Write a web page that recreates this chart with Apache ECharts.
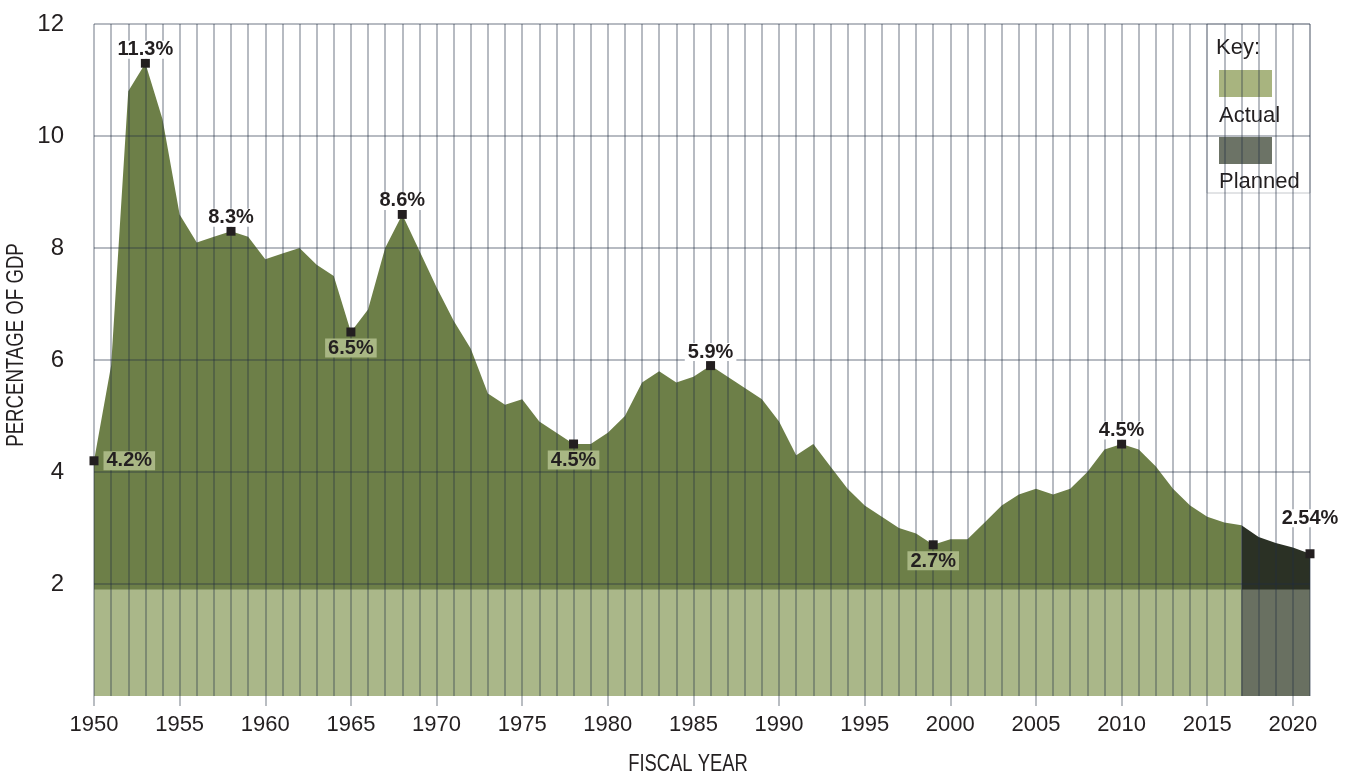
<!DOCTYPE html>
<html>
<head>
<meta charset="utf-8">
<script src="https://cdn.jsdelivr.net/npm/echarts@6/dist/echarts.min.js"></script>
<style>
  html, body { margin: 0; padding: 0; background: #ffffff; }
  #chart { width: 1347px; height: 777px; }
</style>
</head>
<body>
<div id="chart"></div>
<script>
// ---------------- DATA ----------------
const years = [
  '1950','1951','1952','1953','1954','1955','1956','1957','1958','1959',
  '1960','1961','1962','1963','1964','1965','1966','1967','1968','1969',
  '1970','1971','1972','1973','1974','1975','1976','1977','1978','1979',
  '1980','1981','1982','1983','1984','1985','1986','1987','1988','1989',
  '1990','1991','1992','1993','1994','1995','1996','1997','1998','1999',
  '2000','2001','2002','2003','2004','2005','2006','2007','2008','2009',
  '2010','2011','2012','2013','2014','2015','2016','2017','2018','2019',
  '2020','2021'
];
// Actual values, 1950 .. 2017
const actualValues = [
  4.2, 5.9, 10.8, 11.3, 10.3, 8.6, 8.1, 8.2, 8.3, 8.2,
  7.8, 7.9, 8.0, 7.7, 7.5, 6.5, 6.9, 8.0, 8.6, 7.95,
  7.3, 6.7, 6.2, 5.4, 5.2, 5.3, 4.9, 4.7, 4.5, 4.5,
  4.7, 5.0, 5.6, 5.8, 5.6, 5.7, 5.9, 5.7, 5.5, 5.3,
  4.9, 4.3, 4.5, 4.1, 3.7, 3.4, 3.2, 3.0, 2.9, 2.7,
  2.8, 2.8, 3.1, 3.4, 3.6, 3.7, 3.6, 3.7, 4.0, 4.4,
  4.5, 4.4, 4.1, 3.7, 3.4, 3.2, 3.1, 3.05
];
// Planned values, 2017 .. 2021
const plannedYears  = ['2017','2018','2019','2020','2021'];
const plannedValues = [3.05, 2.84, 2.73, 2.65, 2.54];

// Bottom key band level (percentage of GDP)
const bandLevel = 1.9;

// Called-out points
const calloutYears  = ['1950','1953','1958','1965','1968','1978','1986','1999','2010','2021'];
const calloutLabels = ['4.2%','11.3%','8.3%','6.5%','8.6%','4.5%','5.9%','2.7%','4.5%','2.54%'];

const yTicks = [0, 2, 4, 6, 8, 10, 12];

// ---------------- BUILD ----------------
const INK = '#231f20';
const C_ACTUAL_AREA = '#6d7f48';
const C_PLANNED_AREA = '#2b3125';
const C_ACTUAL_BAND = '#aab789';
const C_PLANNED_BAND = '#697061';
const GRID_LINE = 'rgba(30,45,65,0.32)';
const LABEL_GREEN = '#a9b784';
const SANS = '"Liberation Sans", Arial, sans-serif';

function valueAt(year) {
  const pi = plannedYears.indexOf(year);
  if (pi >= 0) return plannedValues[pi];
  return actualValues[years.indexOf(year)];
}

const actualSeriesData = years.map((y, i) => i < actualValues.length ? actualValues[i] : '-');
const plannedSeriesData = years.map(y => {
  const k = plannedYears.indexOf(y);
  return k >= 0 ? plannedValues[k] : '-';
});
const lastActualYear = years[actualValues.length - 1];
const bandActualData = years.map(y => Number(y) <= Number(lastActualYear) ? bandLevel : '-');
const bandPlannedData = years.map(y => Number(y) >= Number(plannedYears[0]) ? bandLevel : '-');

const TOP = { position: 'top', distance: 0, padding: [0, 3, 0, 3], backgroundColor: '#ffffff' };
const BOTTOM = { position: 'bottom', distance: 2, padding: [1, 3, 0, 3], backgroundColor: LABEL_GREEN };
const labelStyles = {
  '1950': { position: 'right', distance: 5, padding: [1, 3, 0, 3], backgroundColor: LABEL_GREEN },
  '1953': TOP,
  '1958': TOP,
  '1965': BOTTOM,
  '1968': TOP,
  '1978': BOTTOM,
  '1986': TOP,
  '1999': BOTTOM,
  '2010': TOP,
  '2021': Object.assign({}, TOP, { offset: [0, -22] })
};

const calloutData = calloutYears.map((y, i) => ({
  value: [y, valueAt(y)],
  label: Object.assign({
    show: true,
    formatter: calloutLabels[i],
    color: INK,
    fontFamily: SANS,
    fontWeight: 'bold',
    fontSize: 20,
    lineHeight: 18
  }, labelStyles[y])
}));

const chart = echarts.init(document.getElementById('chart'), null, { renderer: 'canvas' });

const option = {
  backgroundColor: '#ffffff',
  animation: false,
  grid: { left: 94, right: 37, top: 24, bottom: 81, containLabel: false, outerBoundsMode: 'none' },
  xAxis: {
    type: 'category',
    data: years,
    boundaryGap: false,
    z: 3,
    axisLine: { show: false },
    axisTick: {
      show: true,
      interval: (idx, val) => Number(val) % 5 === 0,
      length: 10,
      lineStyle: { color: '#a3a8ae', width: 1.5 }
    },
    axisLabel: {
      interval: (idx, val) => Number(val) % 5 === 0,
      color: INK,
      fontFamily: SANS,
      fontSize: 22,
      margin: 18
    },
    splitLine: {
      show: true,
      interval: 0,
      lineStyle: { color: GRID_LINE, width: 2 }
    }
  },
  yAxis: {
    type: 'value',
    min: yTicks[0],
    max: yTicks[yTicks.length - 1],
    interval: 2,
    z: 3,
    axisLine: { show: false },
    axisTick: { show: false },
    axisLabel: {
      showMinLabel: false,
      color: INK,
      fontFamily: SANS,
      fontSize: 24,
      margin: 30
    },
    splitLine: {
      show: true,
      showMinLine: false,
      lineStyle: { color: GRID_LINE, width: 2 }
    }
  },
  series: [
    {
      name: 'Actual', type: 'line', data: actualSeriesData, z: 1,
      symbol: 'none', lineStyle: { width: 0 },
      areaStyle: { color: C_ACTUAL_AREA, opacity: 1 }
    },
    {
      name: 'Planned', type: 'line', data: plannedSeriesData, z: 1,
      symbol: 'none', lineStyle: { width: 0 },
      areaStyle: { color: C_PLANNED_AREA, opacity: 1 }
    },
    {
      name: 'Actual band', type: 'line', data: bandActualData, z: 2,
      symbol: 'none', lineStyle: { width: 0 },
      areaStyle: { color: C_ACTUAL_BAND, opacity: 1 }
    },
    {
      name: 'Planned band', type: 'line', data: bandPlannedData, z: 2,
      symbol: 'none', lineStyle: { width: 0 },
      areaStyle: { color: C_PLANNED_BAND, opacity: 1 }
    },
    {
      name: 'Callouts', type: 'scatter', z: 6,
      symbol: 'rect', symbolSize: 9,
      itemStyle: { color: INK, opacity: 1 },
      emphasis: { disabled: true },
      data: calloutData
    }
  ],
  graphic: [
    {
      type: 'text', x: 688, y: 765, z: 10, scaleX: 0.8,
      style: { text: 'FISCAL YEAR', fill: INK, font: '23px ' + SANS, align: 'center', verticalAlign: 'middle' }
    },
    {
      type: 'text', x: 17, y: 345, z: 10, rotation: Math.PI / 2, scaleX: 0.81,
      style: { text: 'PERCENTAGE OF GDP', fill: INK, font: '23px ' + SANS, align: 'center', verticalAlign: 'middle' }
    },
    {
      type: 'group', x: 1207, y: 24, z: 10,
      children: [
        { type: 'rect', shape: { x: 0, y: 0, width: 103, height: 169 },
          style: { fill: '#ffffff', stroke: '#c5c8cc', lineWidth: 1 } },
        { type: 'text', x: 9, y: 13, style: { text: 'Key:', fill: INK, font: '22px ' + SANS } },
        { type: 'rect', shape: { x: 12, y: 46, width: 53, height: 27 }, style: { fill: '#a8b47f' } },
        { type: 'text', x: 12, y: 81, style: { text: 'Actual', fill: INK, font: '22px ' + SANS } },
        { type: 'rect', shape: { x: 12, y: 113, width: 53, height: 27 }, style: { fill: '#6c7366' } },
        { type: 'text', x: 12, y: 147, style: { text: 'Planned', fill: INK, font: '22px ' + SANS } }
      ]
    }
  ]
};
chart.setOption(option);
</script>
</body>
</html>
